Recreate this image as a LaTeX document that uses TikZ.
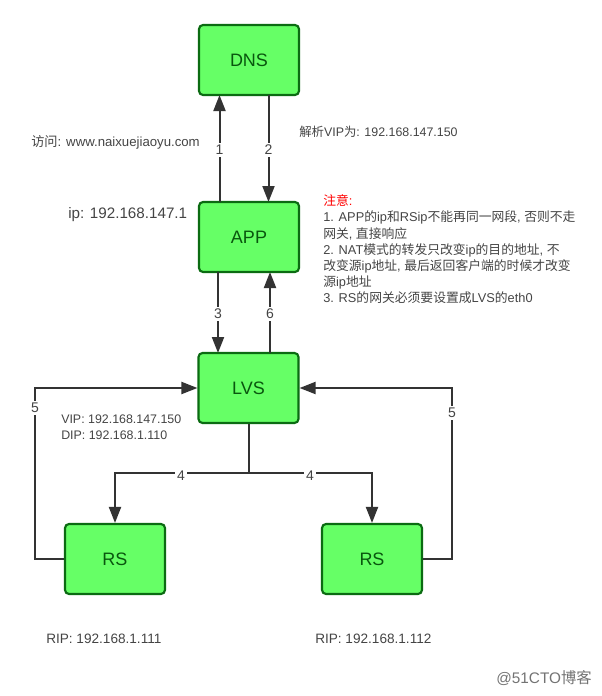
\documentclass[tikz,border=0pt]{standalone}
\usepackage{fontspec}
\setmainfont{Liberation Sans}
\newfontfamily\cjk{Noto Sans CJK SC}
\usetikzlibrary{arrows.meta}
\newcommand{\zh}[1]{{\cjk #1}}
\definecolor{boxfill}{HTML}{66FF66}
\definecolor{boxline}{HTML}{0B6B12}
\definecolor{wire}{HTML}{333333}
\definecolor{txt}{HTML}{444444}
\tikzset{
  x=0.75pt,y=-0.75pt,
  box/.style={draw=boxline,line width=1.6pt,fill=boxfill,rounded corners=3pt,minimum width=75pt,minimum height=52.5pt,inner sep=0pt,text=boxline!80!black,font=\fontsize{13.5}{15}\selectfont},
  wireline/.style={draw=wire,line width=1.5pt},
  arr/.style={wireline,-{Triangle[length=12pt,width=9pt]}},
  lab/.style={fill=white,inner sep=1.5pt,text=txt,font=\fontsize{10.5}{12}\selectfont},
  note/.style={anchor=west,inner sep=0pt,text=txt,font=\fontsize{9.3}{12.15}\selectfont},
}
\begin{document}
\begin{tikzpicture}
\useasboundingbox (0,0) rectangle (602,696);
\node[box] (dns) at (249,60) {DNS};
\node[box] (app) at (249,237) {APP};
\node[box] (lvs) at (248.5,388) {LVS};
\node[box] (rs1) at (115,559) {RS};
\node[box] (rs2) at (372,559) {RS};

\coordinate (a1) at (219.5,202);\coordinate (d1) at (219.5,95);
\coordinate (a2) at (268.5,95);\coordinate (b2) at (268.5,202);
\coordinate (a3) at (218,272);\coordinate (b3) at (218,353);
\coordinate (a6) at (270,353);\coordinate (b6) at (270,272);
\draw[arr] (a1) -- node[lab,pos=.5,yshift=-1pt] {1} (d1);
\draw[arr] (a2) -- node[lab,pos=.5,yshift=-1pt] {2} (b2);
\draw[arr] (a3) -- node[lab,pos=.5,yshift=-1pt] {3} (b3);
\draw[arr] (a6) -- node[lab,pos=.5,yshift=-1pt] {6} (b6);

\coordinate (j) at (248.5,473);
\coordinate (l4) at (115,473);\coordinate (r4) at (372,473);
\coordinate (l5a) at (35,559);\coordinate (l5b) at (35,388);
\coordinate (r5a) at (452,559);\coordinate (r5b) at (452,388);
\draw[wireline] (lvs.south) -- (j);
\draw[arr] (j) -- node[lab,pos=.505,yshift=-2pt] {4} (l4) -- (rs1.north);
\draw[arr] (j) -- node[lab,pos=.498,yshift=-2pt] {4} (r4) -- (rs2.north);
\draw[arr] (rs1.west) -- (l5a) -- node[lab,pos=.883] {5} (l5b) -- (lvs.west);
\draw[arr] (rs2.east) -- (r5a) -- node[lab,pos=.854] {5} (r5b) -- (lvs.east);

\node[note,font=\fontsize{9.9}{12}\selectfont] (t1) at (31,142) {\zh{访问}: www.naixuejiaoyu.com};
\node[note] (t2) at (299,132) {\zh{解析}VIP\zh{为}: 192.168.147.150};
\node[note,font=\fontsize{11.4}{13}\selectfont] (t3) at (68,215) {ip: 192.168.147.1};
\node[note,anchor=north west,align=left,font=\fontsize{9.6}{12.15}\selectfont] (t4) at (323,194.5) {\textcolor{red}{\zh{注意}:}\\
1. APP\zh{的}ip\zh{和}RSip\zh{不能再同一网段}, \zh{否则不走}\\
\zh{网关}, \zh{直接响应}\\
2. NAT\zh{模式的转发只改变}ip\zh{的目的地址}, \zh{不}\\
\zh{改变源}ip\zh{地址}, \zh{最后返回客户端的时候才改变}\\
\zh{源}ip\zh{地址}\\
3. RS\zh{的网关必须要设置成}LVS\zh{的}eth0};
\node[note,anchor=north west,align=left] (t5) at (61,414.5) {VIP: 192.168.147.150\\DIP: 192.168.1.110};
\node[note,font=\fontsize{10.2}{12}\selectfont] (t6) at (46,639) {RIP: 192.168.1.111};
\node[note,font=\fontsize{10.2}{12}\selectfont] (t7) at (315,639) {RIP: 192.168.1.112};
\node[anchor=east,inner sep=0pt,text=black!55,font=\fontsize{11.5}{13}\selectfont] (wm) at (592,678) {@51CTO\zh{博客}};
\end{tikzpicture}
\end{document}
